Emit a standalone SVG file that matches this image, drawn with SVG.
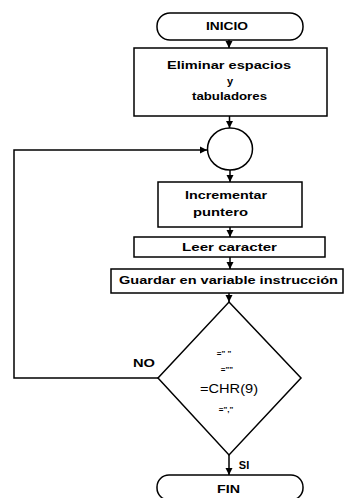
<svg xmlns="http://www.w3.org/2000/svg" width="344" height="498" viewBox="0 0 344 498">
<style>
.s{fill:#fff;stroke:#000;stroke-width:1.5}
.t{font-family:"Liberation Sans",Arial,sans-serif;font-weight:bold;fill:#000;text-anchor:middle}
.c{fill:none;stroke:#000;stroke-width:1.5}
</style>
<defs>
<marker id="ah" markerWidth="8" markerHeight="8" refX="7" refY="4" orient="auto" markerUnits="userSpaceOnUse">
<path d="M0,0.5 L7,4 L0,7.5 Z" fill="#000"/>
</marker>
</defs>
<rect width="344" height="498" fill="#fff"/>
<g id="connectors">
<line class="c" x1="229" y1="40" x2="229" y2="48" marker-end="url(#ah)"/>
<line class="c" x1="229.5" y1="116" x2="229.5" y2="128" marker-end="url(#ah)"/>
<line class="c" x1="230" y1="169" x2="230" y2="182" marker-end="url(#ah)"/>
<line class="c" x1="230" y1="227" x2="230" y2="237" marker-end="url(#ah)"/>
<line class="c" x1="230" y1="257" x2="230" y2="269" marker-end="url(#ah)"/>
<line class="c" x1="229" y1="293" x2="229" y2="302" marker-end="url(#ah)"/>
<polyline class="c" points="158,378 14,378 14,150 207,150" marker-end="url(#ah)"/>
<line class="c" x1="229" y1="455" x2="229" y2="475" marker-end="url(#ah)"/>
</g>
<g id="inicio">
<rect class="s" x="157" y="13" width="146" height="27" rx="13"/>
<text class="t" x="227" y="29.5" font-size="11" textLength="42" lengthAdjust="spacingAndGlyphs">INICIO</text>
</g>
<g id="eliminar">
<rect class="s" x="134" y="48" width="193" height="68"/>
<text class="t" x="229" y="69" font-size="11" textLength="124" lengthAdjust="spacingAndGlyphs">Eliminar espacios</text>
<text class="t" x="230" y="85" font-size="11">y</text>
<text class="t" x="229.5" y="100" font-size="11" textLength="75" lengthAdjust="spacingAndGlyphs">tabuladores</text>
</g>
<g id="conector">
<ellipse class="s" cx="230" cy="149" rx="22.5" ry="21"/>
</g>
<g id="incrementar">
<rect class="s" x="158" y="182" width="144" height="45"/>
<text class="t" x="226" y="198.5" font-size="11" textLength="82" lengthAdjust="spacingAndGlyphs">Incrementar</text>
<text class="t" x="220.5" y="216" font-size="11" textLength="55" lengthAdjust="spacingAndGlyphs">puntero</text>
</g>
<g id="leer">
<rect class="s" x="134" y="237" width="191" height="20"/>
<text class="t" x="229.5" y="250.5" font-size="11" textLength="95" lengthAdjust="spacingAndGlyphs">Leer caracter</text>
</g>
<g id="guardar">
<rect class="s" x="111" y="269" width="232" height="24"/>
<text class="t" x="228.5" y="284" font-size="11" textLength="219" lengthAdjust="spacingAndGlyphs">Guardar en variable instrucción</text>
</g>
<g id="decision">
<polygon class="s" points="229,302 301,378 229,455 158,378"/>
<text class="t" x="224" y="356" font-size="8">=" "</text>
<text class="t" x="227" y="372" font-size="8">=""</text>
<text class="t" x="229" y="393" font-size="13" font-weight="normal" textLength="58" lengthAdjust="spacingAndGlyphs" style="font-weight:normal">=CHR(9)</text>
<text class="t" x="226" y="412" font-size="8">=","</text>
</g>
<g id="labels">
<text class="t" x="144" y="367" font-size="11" textLength="22" lengthAdjust="spacingAndGlyphs">NO</text>
<text class="t" x="244" y="468.5" font-size="11">SI</text>
</g>
<g id="fin">
<rect class="s" x="157" y="475" width="146" height="25" rx="12"/>
<text class="t" x="228.5" y="493" font-size="11" textLength="23" lengthAdjust="spacingAndGlyphs">FIN</text>
</g>
</svg>
